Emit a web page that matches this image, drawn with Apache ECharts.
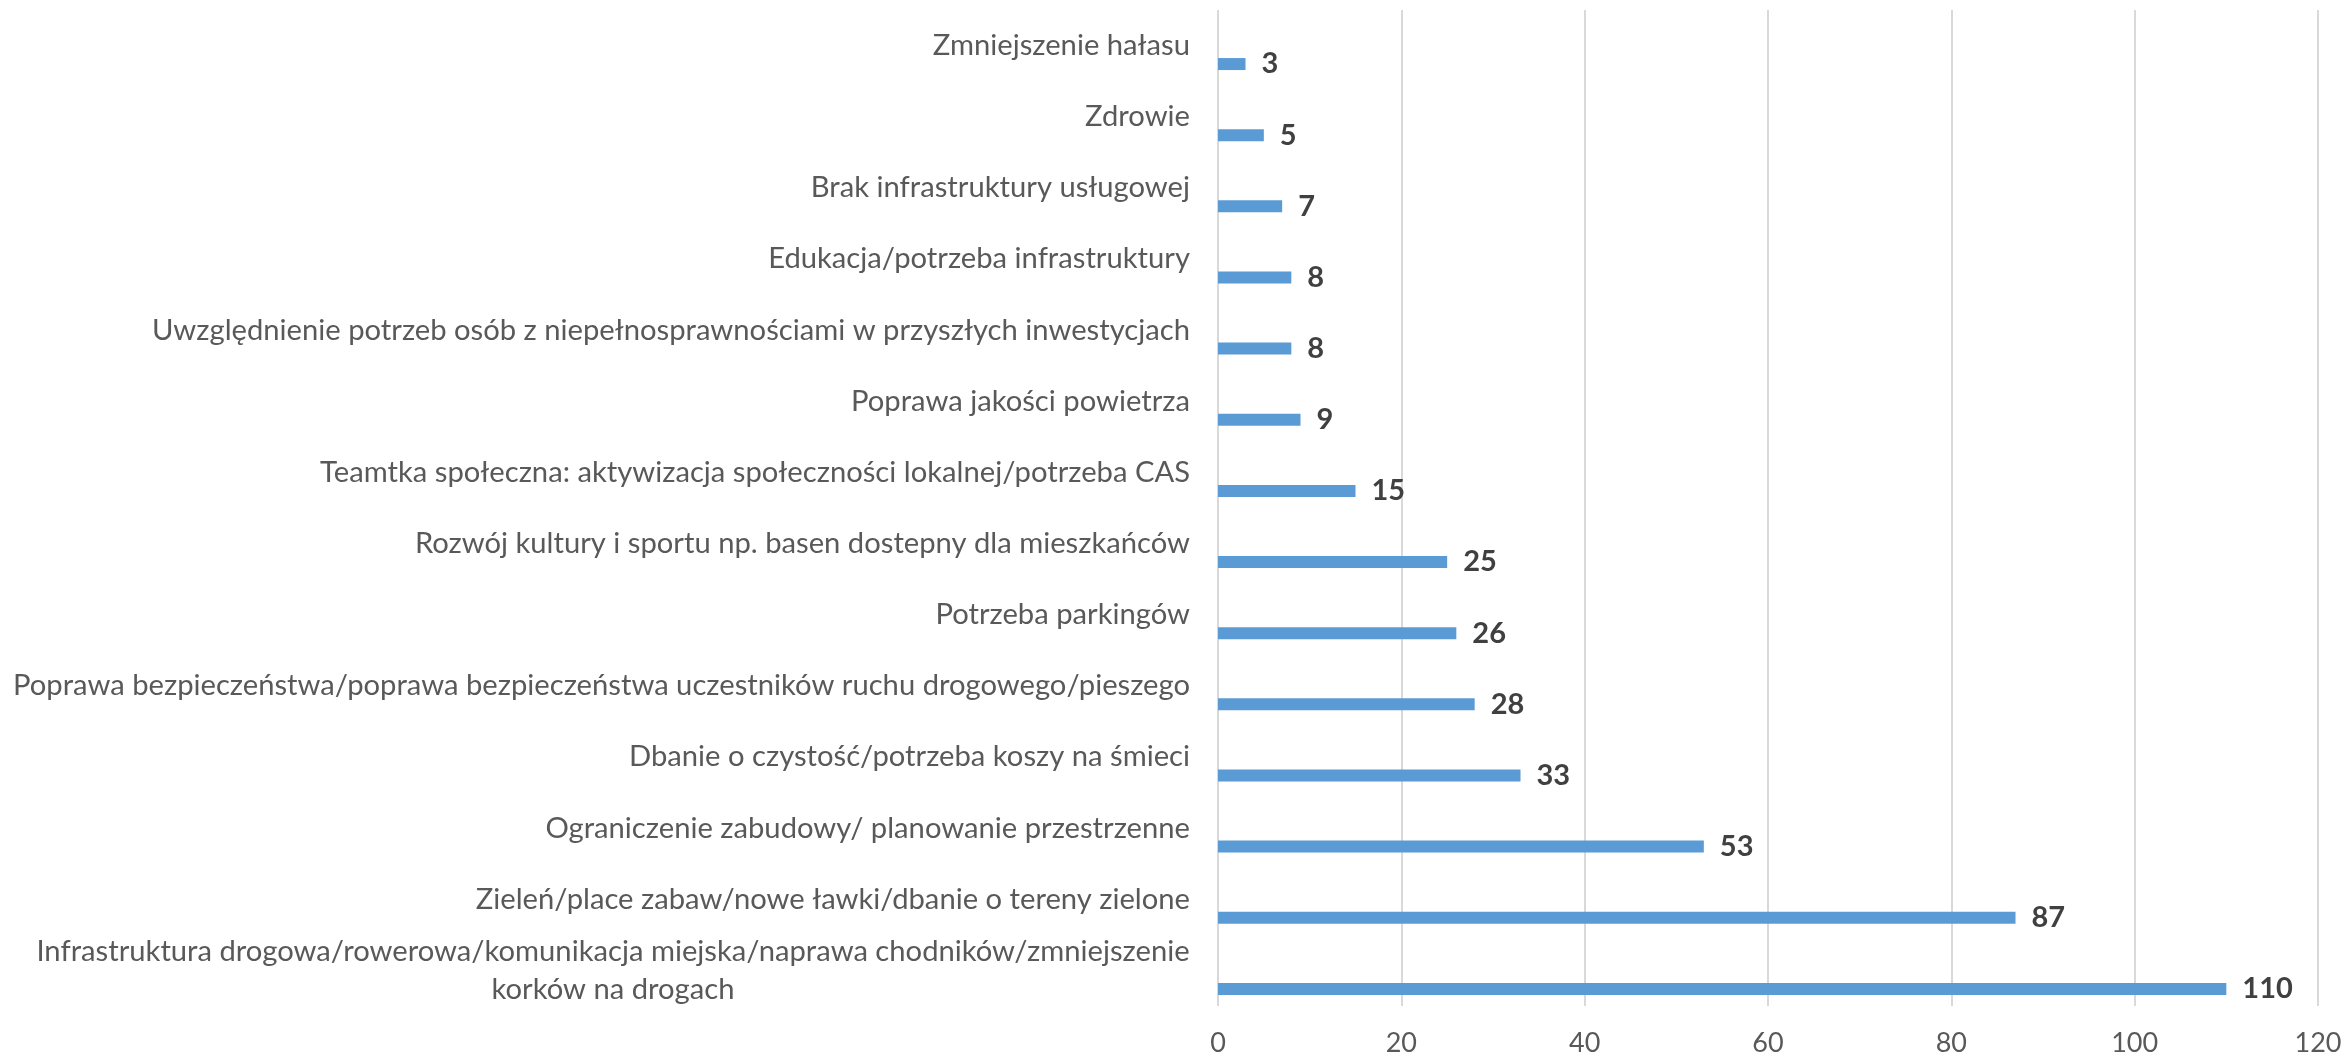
<!DOCTYPE html>
<html lang="pl">
<head>
    <meta charset="UTF-8">
    <title>Potrzeby mieszkańców</title>
    <script src="https://cdn.jsdelivr.net/npm/echarts@6/dist/echarts.min.js"></script>
    <style>
        html, body {margin: 0; padding: 0; background: #fff;}
        #main {width: 2346px; height: 1060px;}
    </style>
</head>
<body>
<div id="main"></div>
<script type="text/javascript">
    // od dołu do góry (oś kategorii rośnie w górę)
    var categories = [
        'Infrastruktura drogowa/rowerowa/komunikacja miejska/naprawa chodników/zmniejszenie\nkorków na drogach',
        'Zieleń/place zabaw/nowe ławki/dbanie o tereny zielone',
        'Ograniczenie zabudowy/ planowanie przestrzenne',
        'Dbanie o czystość/potrzeba koszy na śmieci',
        'Poprawa bezpieczeństwa/poprawa bezpieczeństwa uczestników ruchu drogowego/pieszego',
        'Potrzeba parkingów',
        'Rozwój kultury i sportu np. basen dostepny dla mieszkańców',
        'Teamtka społeczna: aktywizacja społeczności lokalnej/potrzeba CAS',
        'Poprawa jakości powietrza',
        'Uwzględnienie potrzeb osób z niepełnosprawnościami w przyszłych inwestycjach',
        'Edukacja/potrzeba infrastruktury',
        'Brak infrastruktury usługowej',
        'Zdrowie',
        'Zmniejszenie hałasu'
    ];
    var values = [110, 87, 53, 33, 28, 26, 25, 15, 9, 8, 8, 7, 5, 3];
    var xTicks = {min: 0, max: 120, step: 20};

    var labelFont = 29.2;

    // szerokość linii tekstu, żeby wyśrodkować etykietę dwuwierszową
    function lineWidth(text) {
        var ctx = document.createElement('canvas').getContext('2d');
        ctx.font = labelFont + 'px Lato';
        return Math.ceil(ctx.measureText(text).width);
    }

    var myChart = echarts.init(document.getElementById('main'));
    myChart.setOption({
        animation: false,
        textStyle: {fontFamily: 'Lato'},
        grid: {left: 1218, right: 28, top: 10, bottom: 54, containLabel: false},
        xAxis: {
            type: 'value',
            min: xTicks.min,
            max: xTicks.max,
            interval: xTicks.step,
            axisLine: {show: false},
            axisTick: {show: false},
            splitLine: {lineStyle: {color: '#D9D9D9', width: 2}},
            axisLabel: {color: '#595959', fontSize: 27, margin: 24, fontFamily: 'Lato'}
        },
        yAxis: {
            type: 'category',
            data: categories,
            axisLine: {show: false},
            axisTick: {show: false},
            splitLine: {show: false},
            axisLabel: {
                color: '#595959', fontSize: labelFont, margin: 28, fontFamily: 'Lato',
                lineHeight: 38, align: 'right',
                formatter: function (v) {
                    if (v.indexOf('\n') < 0) return v;
                    return v.split('\n').map(function (l) { return '{c|' + l + '}'; }).join('\n');
                },
                rich: {
                    c: {
                        width: lineWidth(categories[0].split('\n')[0]),
                        align: 'center',
                        color: '#595959', fontSize: labelFont, fontFamily: 'Lato', lineHeight: 38
                    }
                }
            }
        },
        series: [
            {
                // pusta seria – przesuwa słupki w dół pasma, jak w oryginale
                type: 'bar',
                data: [],
                barWidth: 12,
                barGap: '208%',
                silent: true
            },
            {
                type: 'bar',
                data: values,
                barWidth: 12,
                barGap: '208%',
                itemStyle: {color: '#5B9BD5'},
                label: {
                    show: true,
                    position: 'right',
                    distance: 16,
                    color: '#404040',
                    fontWeight: 'bold',
                    fontSize: 29,
                    fontFamily: 'Lato'
                }
            }
        ]
    });
</script>
</body>
</html>
